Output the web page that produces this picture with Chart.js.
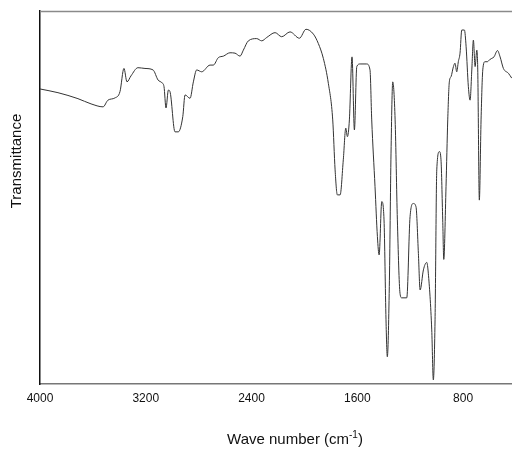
<!DOCTYPE html>
<html>
<head>
<meta charset="utf-8">
<script src="https://cdn.jsdelivr.net/npm/chart.js@4/dist/chart.umd.min.js"></script>
<style>
  body { margin: 0; background: #fff; }
  canvas { display: block; }
</style>
</head>
<body>
<canvas id="grafico-ir" width="512" height="450"></canvas>
<script>
// Espectro IR: número de onda (cm-1) y transmitancia (escala relativa 0-100)
const numerosOnda = [
  4000, 3864, 3713, 3614, 3523, 3486, 3433, 3395, 3365, 3342, 3312, 3259, 3206, 3145,
  3107, 3079, 3062, 3047, 3029, 3017, 2979, 2954, 2920, 2903, 2865, 2840, 2815, 2777,
  2714, 2689, 2651, 2613, 2563, 2525, 2487, 2462, 2424, 2361, 2323, 2285, 2222, 2172,
  2109, 2038, 1988, 1932, 1895, 1857, 1819, 1786, 1768, 1751, 1730, 1706, 1687, 1675,
  1660, 1640, 1622, 1604, 1579, 1529, 1504, 1491, 1466, 1448, 1435, 1415, 1398, 1383,
  1373, 1358, 1345, 1332, 1314, 1297, 1277, 1264, 1226, 1201, 1176, 1156, 1138, 1125,
  1100, 1075, 1063, 1037, 1025, 1012, 999, 979, 967, 954, 946, 929, 916, 904, 891, 873,
  861, 848, 836, 823, 810, 790, 777, 760, 747, 734, 722, 709, 696, 689, 677, 664, 651,
  634, 616, 601, 583, 566, 540, 520, 495, 457, 432
];
const transmitancia = [
  79.1, 78.1, 76.5, 75.1, 74.3, 76.1, 76.7, 78.4, 84.6, 81.0, 82.6, 84.8, 84.6, 84.2,
  81.5, 80.8, 79.7, 74.0, 78.8, 78.4, 67.6, 67.6, 71.7, 77.5, 76.6, 81.0, 84.2, 83.7,
  85.5, 85.5, 87.5, 87.9, 88.8, 88.7, 87.9, 89.5, 92.0, 92.6, 92.0, 92.9, 94.2, 93.1,
  94.4, 92.7, 95.1, 93.8, 91.3, 87.3, 80.6, 70.8, 57.4, 50.7, 50.7, 60.1, 68.6, 66.3,
  70.8, 87.7, 68.1, 85.1, 85.8, 85.8, 84.2, 70.8, 52.9, 39.5, 34.6, 48.9, 44.0, 17.2,
  7.3, 26.1, 61.9, 81.0, 70.8, 44.0, 24.3, 23.1, 23.1, 44.9, 48.4, 47.5, 35.0, 25.2,
  30.6, 32.6, 29.7, 14.5, 1.1, 17.2, 57.4, 62.3, 60.1, 44.0, 33.4, 52.9, 70.8, 81.0, 82.4, 85.1,
  86.0, 83.7, 86.4, 88.7, 94.9, 94.9, 90.4, 79.7, 76.1, 84.2, 92.2, 85.1, 89.5, 84.2, 49.3, 70.8, 84.2,
  86.4, 86.4, 86.9, 87.3, 87.7, 89.4, 87.7, 84.6, 83.3, 82.0
];
const marcasEje = [4000, 3200, 2400, 1600, 800];

const fuente = "'Liberation Sans', Arial, sans-serif";

// Marco superior y títulos de los ejes
const decoracion = {
  id: 'decoracion',
  afterDraw(chart) {
    const ctx = chart.ctx;
    const area = chart.chartArea;
    ctx.save();
    ctx.strokeStyle = '#8a8a8a';
    ctx.lineWidth = 1.5;
    ctx.beginPath();
    ctx.moveTo(area.left, area.top + 0.5);
    ctx.lineTo(area.right, area.top + 0.5);
    ctx.stroke();

    ctx.fillStyle = '#111';
    ctx.textBaseline = 'middle';
    // título eje Y
    ctx.save();
    ctx.font = '15px ' + fuente;
    ctx.translate(17, 161);
    ctx.rotate(-Math.PI / 2);
    ctx.textAlign = 'center';
    ctx.fillText('Transmittance', 0, 0);
    ctx.restore();
    // título eje X con superíndice
    const base = 'Wave number (cm';
    const sup = '-1';
    const cierre = ')';
    ctx.font = '15px ' + fuente;
    const wBase = ctx.measureText(base).width;
    const wCierre = ctx.measureText(cierre).width;
    ctx.font = '10px ' + fuente;
    const wSup = ctx.measureText(sup).width;
    const total = wBase + wSup + wCierre;
    let x = 295 - total / 2;
    const y = 440;
    ctx.textAlign = 'left';
    ctx.font = '15px ' + fuente;
    ctx.fillText(base, x, y);
    x += wBase;
    ctx.font = '10px ' + fuente;
    ctx.fillText(sup, x, y - 5);
    x += wSup;
    ctx.font = '15px ' + fuente;
    ctx.fillText(cierre, x, y);
    ctx.restore();
  }
};

new Chart(document.getElementById('grafico-ir'), {
  type: 'line',
  data: {
    datasets: [{
      data: numerosOnda.map((w, i) => ({ x: w, y: transmitancia[i] })),
      borderColor: '#333',
      borderWidth: 1,
      pointRadius: 0,
      cubicInterpolationMode: 'monotone',
      fill: false
    }]
  },
  options: {
    responsive: false,
    animation: false,
    layout: { padding: { top: 11, right: 0, left: 0, bottom: 0 } },
    plugins: { legend: { display: false }, tooltip: { enabled: false } },
    scales: {
      x: {
        type: 'linear',
        reverse: true,
        min: 430,
        max: 4000,
        afterFit(scale) { scale.height = 66; },
        afterBuildTicks(scale) { scale.ticks = marcasEje.map(v => ({ value: v })); },
        grid: { display: false, drawTicks: false },
        border: { display: true, color: '#777', width: 1.5 },
        ticks: {
          padding: 7,
          maxRotation: 0,
          autoSkip: false,
          color: '#111',
          font: { family: fuente, size: 12 },
          callback: v => String(v)
        }
      },
      y: {
        min: 0,
        max: 100,
        afterFit(scale) { scale.width = 40; },
        grid: { display: false, drawTicks: false },
        border: { display: true, color: '#111', width: 1.5 },
        ticks: { display: false }
      }
    }
  },
  plugins: [decoracion]
});
</script>
</body>
</html>
